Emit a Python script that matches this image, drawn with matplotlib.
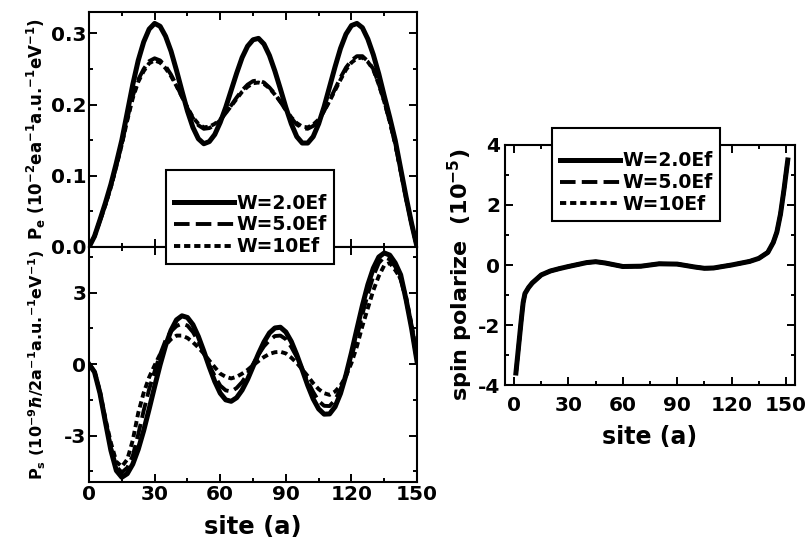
import numpy as np
import matplotlib
matplotlib.use("Agg")
import matplotlib.pyplot as plt
from matplotlib.ticker import MultipleLocator

plt.rcParams['font.family'] = ['DejaVu Sans']
plt.rcParams['font.weight'] = 'bold'
plt.rcParams['axes.labelweight'] = 'bold'
plt.rcParams['axes.unicode_minus'] = False
plt.rcParams['mathtext.fontset'] = 'custom'
plt.rcParams['mathtext.rm'] = 'DejaVu Sans:bold'
plt.rcParams['mathtext.it'] = 'DejaVu Sans:bold:italic'
plt.rcParams['mathtext.bf'] = 'DejaVu Sans:bold'

# ---- data ----
site = np.arange(0, 150.1, 2.5)

# charge polarization P_e (10^-2 e a^-1 a.u.^-1 eV^-1)
pe_w2 = [0.000, 0.015, 0.038, 0.062, 0.088, 0.118, 0.150, 0.189, 0.228, 0.262, 0.288,
         0.306, 0.314, 0.310, 0.296, 0.275, 0.248, 0.219, 0.191, 0.168, 0.152, 0.145,
         0.148, 0.158, 0.175, 0.196, 0.220, 0.244, 0.266, 0.282, 0.291, 0.293, 0.285,
         0.269, 0.247, 0.222, 0.196, 0.173, 0.155, 0.146, 0.146, 0.155, 0.173, 0.197,
         0.225, 0.253, 0.279, 0.299, 0.311, 0.314, 0.308, 0.292, 0.270, 0.243, 0.212,
         0.182, 0.150, 0.110, 0.070, 0.033, 0.000]
pe_w5 = [0.000, 0.015, 0.037, 0.060, 0.085, 0.114, 0.145, 0.180, 0.212, 0.235, 0.250,
         0.261, 0.265, 0.262, 0.254, 0.242, 0.227, 0.211, 0.195, 0.181, 0.171, 0.166,
         0.167, 0.171, 0.178, 0.188, 0.199, 0.210, 0.220, 0.228, 0.233, 0.234, 0.231,
         0.224, 0.215, 0.204, 0.192, 0.181, 0.172, 0.167, 0.166, 0.170, 0.178, 0.191,
         0.206, 0.222, 0.238, 0.252, 0.262, 0.268, 0.268, 0.261, 0.250, 0.229, 0.205,
         0.176, 0.145, 0.107, 0.068, 0.032, 0.000]
pe_w10 = [0.000, 0.015, 0.037, 0.059, 0.084, 0.113, 0.144, 0.178, 0.209, 0.232, 0.247,
          0.258, 0.262, 0.259, 0.251, 0.240, 0.226, 0.211, 0.196, 0.182, 0.173, 0.168,
          0.169, 0.173, 0.179, 0.188, 0.198, 0.208, 0.218, 0.225, 0.230, 0.231, 0.229,
          0.223, 0.214, 0.204, 0.193, 0.182, 0.174, 0.169, 0.168, 0.172, 0.179, 0.191,
          0.205, 0.220, 0.235, 0.249, 0.259, 0.265, 0.266, 0.260, 0.249, 0.228, 0.204,
          0.176, 0.145, 0.107, 0.068, 0.032, 0.000]

# spin polarization P_s (10^-9 hbar/2 a^-1 a.u.^-1 eV^-1)
ps_w2 = [0.00, -0.33, -1.22, -2.43, -3.62, -4.47, -4.75, -4.60, -4.20, -3.58, -2.79,
         -1.88, -0.94, -0.03, 0.78, 1.42, 1.86, 2.03, 1.96, 1.66, 1.16, 0.54,
         -0.12, -0.73, -1.22, -1.50, -1.56, -1.41, -1.09, -0.64, -0.10, 0.44, 0.93,
         1.31, 1.52, 1.55, 1.35, 0.95, 0.39, -0.24, -0.89, -1.46, -1.88, -2.10,
         -2.09, -1.79, -1.23, -0.45, 0.48, 1.48, 2.46, 3.34, 4.03, 4.50, 4.67,
         4.58, 4.25, 3.75, 2.70, 1.50, 0.10]
ps_w5 = [0.00, -0.32, -1.20, -2.38, -3.50, -4.30, -4.55, -4.35, -3.85, -2.95, -1.95,
         -1.05, -0.30, 0.40, 1.00, 1.38, 1.60, 1.70, 1.62, 1.35, 0.95, 0.47,
         -0.05, -0.50, -0.90, -1.10, -1.15, -1.00, -0.75, -0.40, 0.00, 0.40, 0.75,
         1.00, 1.18, 1.20, 1.05, 0.72, 0.30, -0.20, -0.72, -1.17, -1.55, -1.75,
         -1.76, -1.50, -1.05, -0.45, 0.30, 1.15, 2.10, 2.95, 3.70, 4.25, 4.50,
         4.40, 4.10, 3.55, 2.70, 1.55, 0.10]
ps_w10 = [0.00, -0.30, -1.15, -2.30, -3.30, -4.10, -4.30, -4.00, -3.20, -2.05, -1.20,
          -0.55, -0.05, 0.42, 0.80, 1.05, 1.20, 1.20, 1.10, 0.92, 0.70, 0.44,
          0.15, -0.13, -0.40, -0.53, -0.60, -0.53, -0.40, -0.24, -0.05, 0.13, 0.30,
          0.43, 0.50, 0.52, 0.45, 0.27, 0.05, -0.22, -0.50, -0.80, -1.05, -1.22,
          -1.29, -1.15, -0.90, -0.50, 0.05, 0.75, 1.60, 2.35, 3.10, 3.70, 4.15,
          4.25, 3.95, 3.60, 2.80, 1.65, 0.30]

# spin polarize (10^-5), the three W curves coincide
sp_site = [1, 2, 3, 4, 5, 6, 8, 10, 15, 20, 25, 30, 40, 45, 50, 60, 70, 80, 90, 100,
           105, 110, 120, 130, 135, 140, 143, 145, 147, 149, 151]
sp_w2 = [-3.60, -3.00, -2.40, -1.80, -1.25, -0.95, -0.75, -0.60, -0.33, -0.20, -0.12,
         -0.05, 0.08, 0.11, 0.07, -0.05, -0.04, 0.04, 0.03, -0.07, -0.11, -0.10, 0.00,
         0.12, 0.22, 0.42, 0.75, 1.10, 1.70, 2.55, 3.50]
sp_w5 = sp_w2
sp_w10 = sp_w2

labels = ['W=2.0Ef', 'W=5.0Ef', 'W=10Ef']
styles = ['-', (0, (4, 1.6)), (0, (1.6, 1.0))]
widths = [3.6, 2.8, 2.8]
zord = [3, 2.5, 2]

fig = plt.figure(figsize=(8.1, 5.49), dpi=100)
ax1 = fig.add_axes([0.1099, 0.5501, 0.405, 0.428])
ax2 = fig.add_axes([0.1099, 0.1220, 0.405, 0.4281])
ax3 = fig.add_axes([0.6235, 0.2987, 0.358, 0.4372])

handles = []
for y, ls, lw, lab, z in zip([pe_w2, pe_w5, pe_w10], styles, widths, labels, zord):
    h, = ax1.plot(site, y, color='black', ls=ls, lw=lw, label=lab, zorder=z)
    handles.append(h)
for y, ls, lw, z in zip([ps_w2, ps_w5, ps_w10], styles, widths, zord):
    ax2.plot(site, y, color='black', ls=ls, lw=lw, zorder=z)
for y, ls, lw, z in zip([sp_w2, sp_w5, sp_w10], styles, widths, zord):
    ax3.plot(sp_site, y, color='black', ls=ls, lw=lw, zorder=z)

ax1.set_xlim(0, 150)
ax1.set_ylim(0, 0.33)
ax2.set_xlim(0, 150)
ax2.set_ylim(-4.95, 4.92)
ax3.set_xlim(-5, 155)
ax3.set_ylim(-4, 4)

ax1.yaxis.set_major_locator(MultipleLocator(0.1))
ax1.yaxis.set_minor_locator(MultipleLocator(0.05))
ax1.yaxis.set_major_formatter(plt.FormatStrFormatter('%.1f'))
ax2.yaxis.set_major_locator(MultipleLocator(3))
ax2.yaxis.set_minor_locator(MultipleLocator(1.5))
ax3.yaxis.set_major_locator(MultipleLocator(2))
ax3.yaxis.set_minor_locator(MultipleLocator(1))
for ax in (ax1, ax2, ax3):
    ax.xaxis.set_major_locator(MultipleLocator(30))
    ax.xaxis.set_minor_locator(MultipleLocator(15))
    ax.tick_params(which='both', direction='in', top=True, right=True, width=1.4)
    ax.tick_params(which='major', length=6, labelsize=14.5)
    ax.tick_params(which='minor', length=3)
    for sp in ax.spines.values():
        sp.set_linewidth(1.5)
ax1.tick_params(labelbottom=False, pad=2)
ax2.tick_params(pad=2)
ax3.tick_params(axis='x', pad=8)

ax1.set_ylabel(r'P$_\mathrm{e}$ (10$^\mathrm{-2}$ea$^\mathrm{-1}$a.u.$^\mathrm{-1}$eV$^\mathrm{-1}$)',
               fontsize=12)
ax2.set_ylabel(r'P$_\mathrm{s}$ (10$^\mathrm{-9}$$\hbar$/2a$^\mathrm{-1}$a.u.$^\mathrm{-1}$eV$^\mathrm{-1}$)',
               fontsize=11.5)
ax1.yaxis.set_label_coords(-0.125, 0.5)
ax2.yaxis.set_label_coords(-0.125, 0.5)
ax2.set_xlabel('site (a)', fontsize=17.5, labelpad=8)

ax3.set_ylabel(r'spin polarize  (10$^\mathrm{-5}$)', fontsize=16)
ax3.yaxis.set_label_coords(-0.105, 0.46)
ax3.set_xlabel('site (a)', fontsize=17, labelpad=7)

leg_kw = dict(frameon=True, fancybox=False, framealpha=1, edgecolor='black',
              fontsize=13.5, handlelength=3.2, handletextpad=0.15, labelspacing=0.15,
              borderaxespad=0, borderpad=0.4, title=' ', title_fontsize=9,
              loc='upper left', bbox_transform=fig.transFigure)
l1 = fig.legend(handles, labels, bbox_to_anchor=(0.205, 0.690), **leg_kw)
l2 = fig.legend(handles, labels, bbox_to_anchor=(0.6815, 0.7668), **leg_kw)
for l in (l1, l2):
    l.get_frame().set_linewidth(1.5)
    for t in l.get_texts():
        t.set_fontweight('bold')

# tick labels are only built at draw time, so make them bold afterwards
fig.canvas.draw()
for ax in (ax1, ax2, ax3):
    for t in ax.get_xticklabels() + ax.get_yticklabels():
        t.set_fontweight('bold')

fig.savefig('out.png', dpi=100)
